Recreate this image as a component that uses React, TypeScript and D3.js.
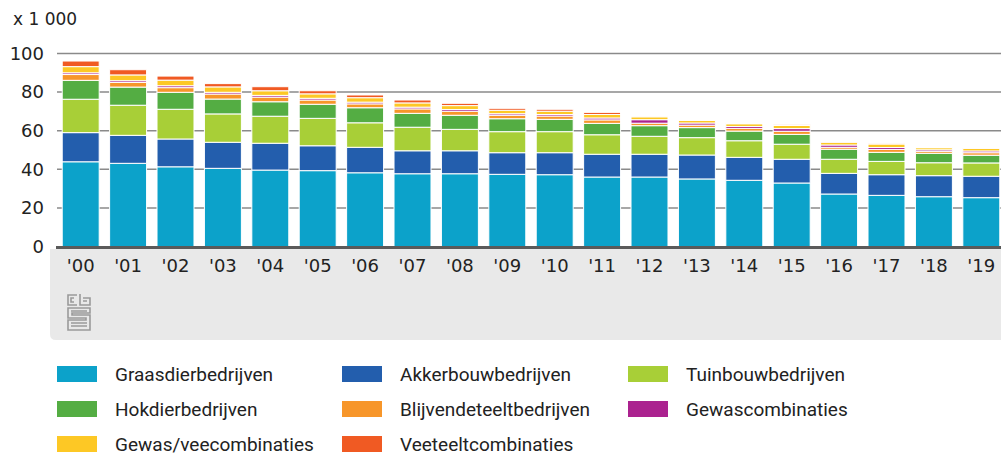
import React from "react";
import * as d3 from "d3";

const years = ["'00", "'01", "'02", "'03", "'04", "'05", "'06", "'07", "'08", "'09", "'10", "'11", "'12", "'13", "'14", "'15", "'16", "'17", "'18", "'19"];

const seriesNames = [
  "Graasdierbedrijven",
  "Akkerbouwbedrijven",
  "Tuinbouwbedrijven",
  "Hokdierbedrijven",
  "Blijvendeteeltbedrijven",
  "Gewascombinaties",
  "Gewas/veecombinaties",
  "Veeteeltcombinaties",
];

const colors = ["#0ca2ca", "#235ead", "#a8cf37", "#54ad43", "#f7962a", "#ab228f", "#fdc825", "#f05a23"];

// x 1 000 bedrijven
const graasdier = [43.9, 43.1, 41.3, 40.5, 39.6, 39.3, 38.2, 37.7, 37.7, 37.4, 37.2, 36.0, 36.0, 35.0, 34.3, 32.9, 27.2, 26.5, 25.8, 25.3];
const akkerbouw = [15.1, 14.5, 14.4, 13.5, 13.9, 12.9, 13.2, 11.9, 11.9, 11.2, 11.4, 11.8, 11.8, 12.4, 11.9, 12.3, 10.7, 10.7, 10.9, 11.1];
const tuinbouw = [17.3, 15.6, 15.4, 14.7, 14.0, 14.2, 12.7, 12.2, 11.1, 10.9, 10.9, 10.1, 9.3, 9.0, 8.6, 7.8, 7.3, 6.9, 6.7, 6.9];
const hokdier = [9.8, 9.4, 8.8, 7.7, 7.5, 7.3, 7.8, 7.2, 7.3, 6.7, 6.4, 5.9, 5.5, 5.2, 5.0, 5.1, 5.2, 4.7, 4.9, 4.0];
const blijvend = [3.0, 2.4, 2.4, 2.6, 2.4, 2.2, 2.0, 2.3, 2.1, 1.8, 1.7, 1.8, 1.3, 1.3, 1.4, 1.6, 1.0, 1.5, 1.0, 1.3];
const gewascomb = [0.9, 0.9, 1.0, 0.9, 0.9, 0.9, 0.9, 0.9, 0.9, 0.8, 0.8, 1.0, 1.8, 1.1, 1.0, 1.4, 1.2, 1.0, 0.8, 0.9];
const gewasvee = [3.2, 3.0, 2.9, 2.8, 2.4, 2.3, 2.3, 2.2, 2.0, 1.8, 1.7, 1.8, 1.5, 1.3, 1.4, 1.6, 1.4, 1.8, 1.1, 1.3];
const veeteelt = [2.9, 2.7, 2.1, 1.7, 2.1, 1.6, 1.4, 1.5, 1.2, 1.0, 1.0, 1.1, 0.1, 0.2, 0.2, 0.4, 0.1, 0.2, 0.2, 0.2];

const yTicks = [0, 20, 40, 60, 80, 100];

const allSeries = [graasdier, akkerbouw, tuinbouw, hokdier, blijvend, gewascomb, gewasvee, veeteelt];

const rows = years.map((year, i) => {
  const row: Record<string, any> = { year };
  seriesNames.forEach((name, j) => (row[name] = allSeries[j][i]));
  return row;
});

const width = 1001;
const height = 457;
const marginLeft = 57;
const plotRight = 1005;
const marginTop = 53.5;
const baseY = 246.5;

const App = () => {
  const x = d3.scaleBand<string>().domain(years).range([marginLeft, plotRight]).paddingInner(0.22).paddingOuter(0.11);
  const y = d3.scaleLinear().domain([0, 100]).range([baseY, marginTop]);
  const stacked = d3.stack<any>().keys(seriesNames)(rows);

  const font = "'DejaVu Sans', sans-serif";
  const legendFont = "'Liberation Sans Narrow', 'Roboto', sans-serif";

  return (
    <div style={{ position: "absolute", left: 0, top: 0 }}>
      <svg width={width} height={height} style={{ display: "block" }}>
        <rect width={width} height={height} fill="#fff" />
        {/* unit label */}
        <text x={13} y={25} fontFamily={font} fontSize={17} fill="#222">x 1 000</text>

        {/* grid */}
        {yTicks.filter((t) => t > 0).map((t) => (
          <line key={t} x1={marginLeft} x2={width} y1={y(t)} y2={y(t)} stroke="#8a8a8a" strokeWidth={1.5} />
        ))}
        {yTicks.map((t) => (
          <text key={"l" + t} x={44} y={y(t)} dy="0.35em" textAnchor="end" fontFamily={font} fontSize={18} fill="#222">
            {t}
          </text>
        ))}

        {/* x axis panel */}
        <path
          d={`M50,249 H${width} V340 H56 Q50,340 50,334 Z`}
          fill="#e9e9e9"
        />

        {/* bars */}
        {stacked.map((s, si) => (
          <g key={s.key} fill={colors[si]} stroke="#fff" strokeWidth={1}>
            {s.map((d, i) => (
              <rect
                key={i}
                x={x(years[i])}
                y={y(d[1])}
                width={x.bandwidth()}
                height={Math.max(0, y(d[0]) - y(d[1]))}
              />
            ))}
          </g>
        ))}

        {/* baseline */}
        <line x1={56} x2={width} y1={247.5} y2={247.5} stroke="#5a5a5a" strokeWidth={3} />

        {years.map((yr) => (
          <text
            key={yr}
            x={(x(yr) as number) + x.bandwidth() / 2}
            y={272}
            textAnchor="middle"
            fontFamily={font}
            fontSize={18}
            fill="#222"
          >
            {yr}
          </text>
        ))}

        {/* cbs logo */}
        <g fill="none" stroke="#9a9a9a" strokeWidth={1.6}>
          <path d="M77,295 H68 V305 H77 M74,298 H71 V302 H74" />
          <path d="M80,294 V305 H90 V298 H83 M83,301 H87" />
          <path d="M90,308 H68 V318 H86 V320 H68 V330 H90 V315 H72 V313 H90 Z" />
          <path d="M71,311 H87 M71,323 H87 M71,326 H87" />
        </g>

        {/* legend */}
        {seriesNames.map((name, i) => {
          const col = i % 3;
          const row = Math.floor(i / 3);
          const lx = [57, 342, 628][col];
          const ly = 374 + row * 35;
          return (
            <g key={name}>
              <rect x={lx} y={ly - 8} width={40} height={16} fill={colors[i]} />
              <text x={lx + 58} y={ly} dy="0.35em" fontFamily={legendFont} fontSize={19} fill="#222">
                {name}
              </text>
            </g>
          );
        })}
      </svg>
    </div>
  );
};

export default App;
